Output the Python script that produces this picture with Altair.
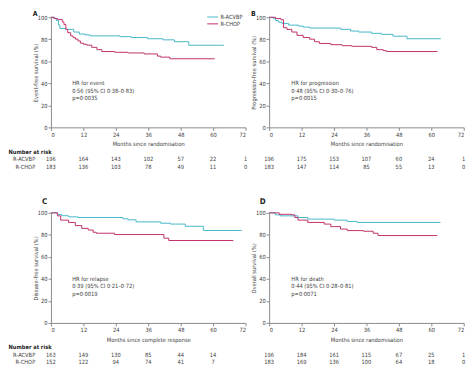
import altair as alt
import pandas as pd

# ---------------- data ----------------
MONTH_TICKS = [0, 12, 24, 36, 48, 60, 72]
SURV_TICKS = [0, 20, 40, 60, 80, 100]
SERIES = ["R-ACVBP", "R-CHOP"]
COLORS = ["#45b8c9", "#c0306a"]

# Panel A – event-free survival
A_ACVBP_T = [0, 1.0, 2.0, 2.8, 3.3, 5.5, 8.4, 10.5, 12.6, 14.5, 25.5, 29.7, 35.7, 41.5, 45.7, 51.0, 64.0]
A_ACVBP_S = [100, 99.2, 97.0, 93.0, 89.8, 89.0, 86.6, 84.8, 84.0, 83.1, 82.4, 81.6, 80.5, 79.5, 77.8, 74.6, 74.6]
A_CHOP_T = [0, 1.2, 2.5, 4.2, 4.8, 5.5, 6.2, 7.3, 8.2, 9.1, 10.0, 10.9, 12.0, 13.3, 15.1, 17.0, 18.8, 23.6, 28.4, 34.5, 39.4, 40.6, 44.0, 60.6]
A_CHOP_S = [100, 98.8, 97.9, 95.8, 93.4, 89.0, 86.0, 83.1, 81.5, 80.1, 78.5, 76.5, 75.5, 74.7, 72.7, 70.6, 68.9, 68.2, 67.6, 66.7, 64.7, 63.8, 62.3, 62.3]

# Panel B – progression-free survival
B_ACVBP_T = [0, 1.5, 2.4, 3.5, 4.8, 7.2, 10.8, 12.6, 15.0, 26.5, 30.1, 33.1, 37.9, 41.6, 45.8, 51.0, 63.5]
B_ACVBP_S = [100, 99.0, 97.0, 95.5, 94.4, 92.9, 92.0, 91.1, 90.2, 89.0, 87.5, 86.6, 85.4, 84.5, 82.8, 80.5, 80.5]
B_CHOP_T = [0, 2.4, 4.4, 5.3, 6.6, 8.4, 10.3, 12.6, 15.0, 16.8, 18.6, 22.8, 27.0, 30.6, 37.9, 39.8, 42.2, 43.4, 62.3]
B_CHOP_S = [100, 98.8, 97.8, 90.5, 89.0, 86.6, 83.6, 81.6, 80.1, 77.8, 76.2, 75.1, 74.2, 73.6, 72.7, 70.6, 69.7, 68.9, 68.9]

# Panel C – disease-free survival
C_ACVBP_T = [0, 2.4, 4.0, 6.5, 10.0, 26.6, 28.5, 31.5, 40.6, 44.2, 49.7, 56.4, 70.5]
C_ACVBP_S = [100, 98.6, 97.4, 96.4, 95.8, 94.6, 93.7, 91.8, 90.6, 89.8, 87.8, 84.0, 84.0]
C_CHOP_T = [0, 2.4, 3.6, 6.5, 9.0, 11.4, 13.8, 15.6, 16.8, 23.5, 41.8, 43.6, 67.5]
C_CHOP_S = [100, 97.3, 93.4, 91.3, 88.4, 85.9, 84.4, 82.4, 81.5, 80.3, 77.0, 74.9, 74.9]

# Panel D – overall survival
D_ACVBP_T = [0, 2.3, 4.1, 10.7, 14.3, 24.0, 28.9, 32.5, 63.4]
D_ACVBP_S = [100, 98.2, 97.3, 95.8, 94.3, 93.4, 92.2, 91.3, 91.3]
D_CHOP_T = [0, 3.7, 8.3, 9.5, 10.7, 14.3, 20.4, 22.8, 26.4, 28.9, 34.9, 38.5, 40.3, 62.2]
D_CHOP_S = [100, 98.7, 98.2, 95.8, 93.4, 91.3, 89.8, 87.5, 85.3, 83.9, 83.3, 81.5, 79.4, 79.4]

# Numbers at risk (at 0, 12, 24, 36, 48, 60, 72 months)
RISK_A_ACVBP = [196, 164, 143, 102, 57, 22, 1]
RISK_A_CHOP = [183, 136, 103, 78, 49, 11, 0]
RISK_B_ACVBP = [196, 175, 153, 107, 60, 24, 1]
RISK_B_CHOP = [183, 147, 114, 85, 55, 13, 0]
RISK_C_ACVBP = [163, 149, 130, 85, 44, 14]
RISK_C_CHOP = [152, 122, 94, 74, 41, 7]
RISK_D_ACVBP = [196, 184, 161, 115, 67, 25, 1]
RISK_D_CHOP = [183, 169, 136, 100, 64, 18, 0]

Y_TITLES = ["Event-free survival (%)", "Progression-free survival (%)",
            "Disease-free survival (%)", "Overall survival (%)"]
X_TITLES = ["Months since randomisation", "Months since randomisation",
            "Months since complete response", "Months since randomisation"]
LETTERS = ["A", "B", "C", "D"]
HR_TEXT = [
    ["HR for event", "0·56 (95% CI 0·38–0·83)", "p=0·0035"],
    ["HR for progression", "0·48 (95% CI 0·30–0·76)", "p=0·0015"],
    ["HR for relapse", "0·39 (95% CI 0·21–0·72)", "p=0·0019"],
    ["HR for death", "0·44 (95% CI 0·28–0·81)", "p=0·0071"],
]

# ---------------- style ----------------
FONT = "DejaVu Sans Condensed, Roboto Condensed, Roboto, sans-serif"
FS = 5.8
TXT = "#3d3d3d"
AXC = "#8a8a8a"
W, H = 198, 112


def curves_df(t1, s1, t2, s2):
    a = pd.DataFrame({"month": t1, "surv": s1, "series": SERIES[0]})
    b = pd.DataFrame({"month": t2, "surv": s2, "series": SERIES[1]})
    return pd.concat([a, b], ignore_index=True)


def risk_df(r1, r2):
    rows = []
    for name, vals in zip(SERIES, [r1, r2]):
        for m, v in zip(MONTH_TICKS, vals):
            rows.append({"month": m, "surv": 0, "series": name, "n": str(v)})
    return pd.DataFrame(rows)


def panel(i, curves, risk, left, legend):
    x = alt.X("month:Q",
              scale=alt.Scale(domain=[0, 72], nice=False),
              axis=alt.Axis(values=MONTH_TICKS, title=X_TITLES[i],
                            titleY=16.8, titleBaseline="middle"))
    y = alt.Y("surv:Q",
              scale=alt.Scale(domain=[0, 100], nice=False),
              axis=alt.Axis(values=SURV_TICKS, title=Y_TITLES[i],
                            titleX=-15.7, titleY=H / 2, titleAngle=270,
                            titleBaseline="middle", titleAlign="center"))
    color = alt.Color("series:N", scale=alt.Scale(domain=SERIES, range=COLORS), legend=None)

    lines = alt.Chart(curves).mark_line(
        interpolate="step-after", strokeWidth=1).encode(x=x, y=y, color=color)

    layers = [lines]

    # numbers at risk
    for k, name in enumerate(SERIES):
        layers.append(
            alt.Chart(risk).transform_filter(alt.datum.series == name)
            .mark_text(fontSize=FS, color=TXT, baseline="middle", align="center")
            .encode(x=x, y=alt.value(H + 32.6 + 7.4 * k), text="n:N")
        )
        if left:
            layers.append(
                alt.Chart(pd.DataFrame({"label": [name]}))
                .mark_text(fontSize=FS, color=TXT, baseline="middle", align="right")
                .encode(x=alt.value(-16), y=alt.value(H + 32.6 + 7.4 * k), text="label:N")
            )
    if left:
        layers.append(
            alt.Chart(pd.DataFrame({"label": ["Number at risk"]}))
            .mark_text(fontSize=FS, color="#222", fontWeight="bold",
                       baseline="middle", align="left")
            .encode(x=alt.value(-43.2), y=alt.value(H + 25), text="label:N")
        )

    # panel letter (top row kept just inside the page, left of the "100" label)
    top_row = i < 2
    layers.append(
        alt.Chart(pd.DataFrame({"label": [LETTERS[i]]}))
        .mark_text(fontSize=7 if top_row else 8, fontWeight="bold", color="#222",
                   baseline="alphabetic", align="center")
        .encode(x=alt.value(-16 if top_row else -6.5),
                y=alt.value(-1.2 if top_row else -8.8), text="label:N")
    )

    # HR annotation
    hx = 21.6 if i % 2 == 0 else 22.6
    layers.append(
        alt.Chart(pd.DataFrame({"label": ["\n".join(HR_TEXT[i])]}))
        .mark_text(fontSize=FS, color=TXT, baseline="top", align="left",
                   lineBreak="\n", lineHeight=7.6)
        .encode(x=alt.value(hx), y=alt.value(64.0), text="label:N")
    )

    if legend:
        for k, name in enumerate(SERIES):
            ly = -0.3 + 7 * k
            layers.append(
                alt.Chart(pd.DataFrame({"label": [name]}))
                .mark_rule(strokeWidth=1, color=COLORS[k])
                .encode(x=alt.value(159), x2=alt.value(170), y=alt.value(ly))
            )
            layers.append(
                alt.Chart(pd.DataFrame({"label": [name]}))
                .mark_text(fontSize=FS, color=TXT, baseline="middle", align="left")
                .encode(x=alt.value(172.5), y=alt.value(ly), text="label:N")
            )

    return alt.layer(*layers).properties(width=W, height=H)


pA = panel(0, curves_df(A_ACVBP_T, A_ACVBP_S, A_CHOP_T, A_CHOP_S),
           risk_df(RISK_A_ACVBP, RISK_A_CHOP), True, True)
pB = panel(1, curves_df(B_ACVBP_T, B_ACVBP_S, B_CHOP_T, B_CHOP_S),
           risk_df(RISK_B_ACVBP, RISK_B_CHOP), False, False)
pC = panel(2, curves_df(C_ACVBP_T, C_ACVBP_S, C_CHOP_T, C_CHOP_S),
           risk_df(RISK_C_ACVBP, RISK_C_CHOP), True, False)
pD = panel(3, curves_df(D_ACVBP_T, D_ACVBP_S, D_CHOP_T, D_CHOP_S),
           risk_df(RISK_D_ACVBP, RISK_D_CHOP), False, False)

chart = alt.concat(
    pA, pB, pC, pD, columns=2,
    spacing=alt.RowColnumber(row=87, column=24),
    bounds="flush",
).properties(
    autosize=alt.AutoSizeParams(type="none"),
    padding={"left": 43.7, "top": 6.3, "right": 422.3, "bottom": 353.7},
).configure(
    font=FONT,
).configure_view(
    stroke=None,
).configure_axis(
    labelFontSize=FS, titleFontSize=FS, labelColor=TXT, titleColor=TXT,
    titleFontWeight="normal", domainColor=AXC, tickColor=AXC, tickSize=3,
    labelPadding=1, grid=False, domainWidth=1, tickWidth=1, labelFont=FONT, titleFont=FONT,
)

chart.save("out.html", embed_options={"renderer": "svg", "actions": False})
